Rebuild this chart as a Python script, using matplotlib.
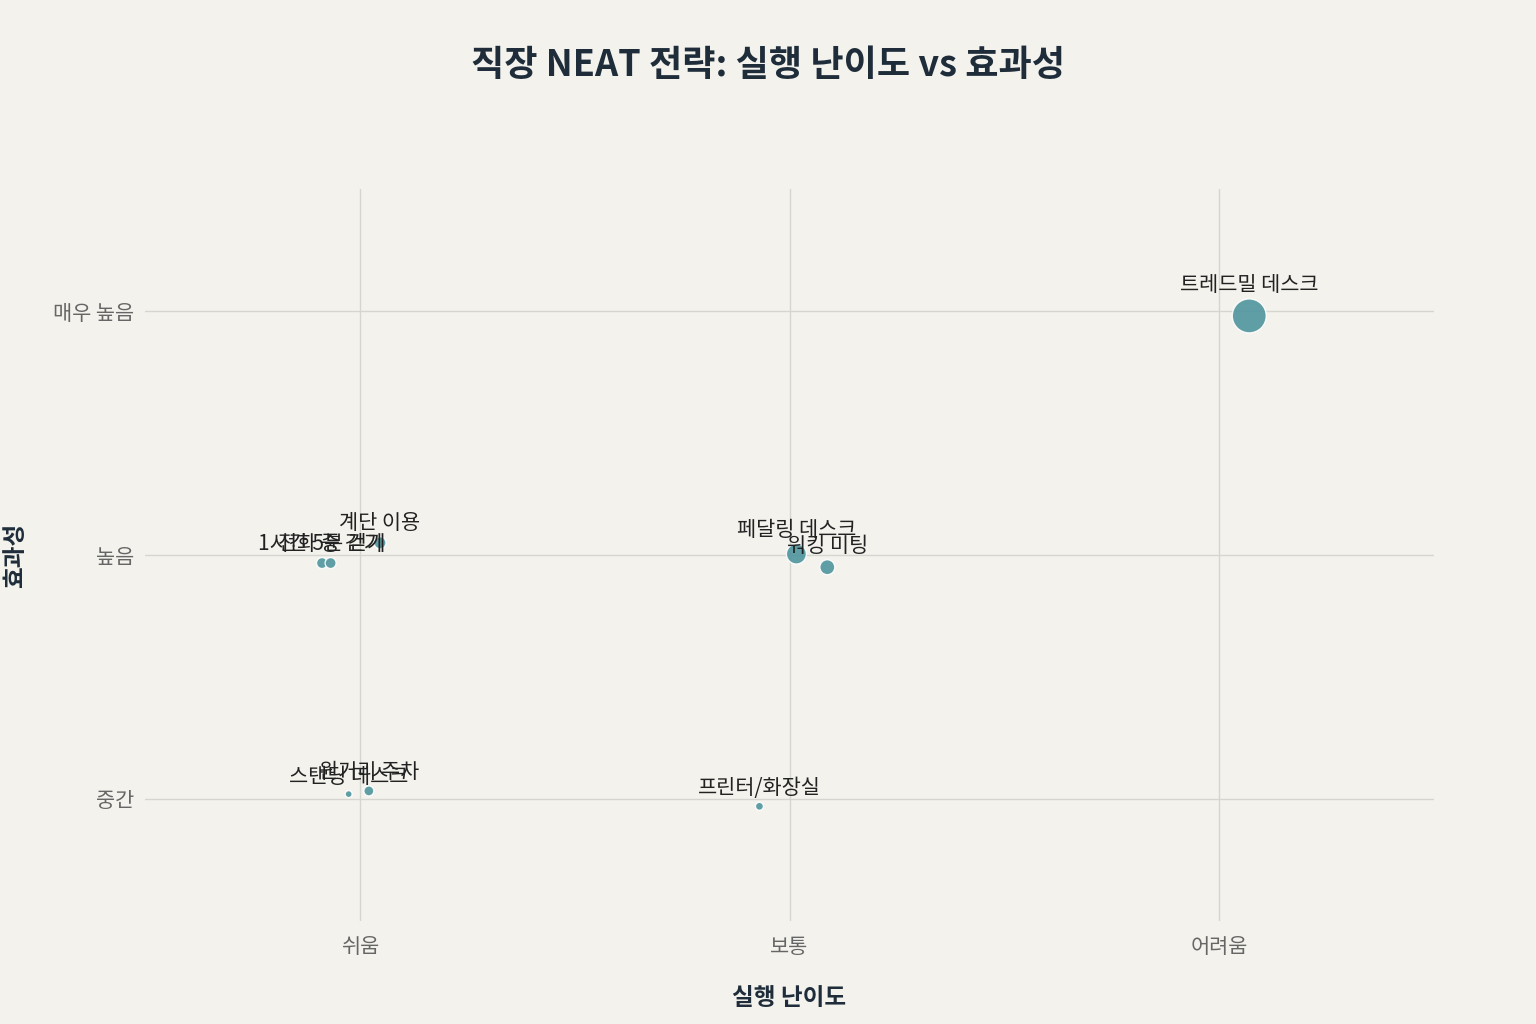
import matplotlib
matplotlib.use("Agg")
import matplotlib.pyplot as plt

plt.rcParams['font.family'] = ['Noto Sans CJK KR', 'DejaVu Sans']

# strategies: difficulty / effectiveness on category scale (with slight jitter as in source)
names = ["트레드밀 데스크", "계단 이용", "1시간 5분 걷기", "전화 중 걷기",
         "페달링 데스크", "워킹 미팅", "스탠딩 데스크", "원거리 주차", "프린터/화장실"]
difficulty = [2.07, 0.047, -0.088, -0.068, 1.016, 1.088, -0.026, 0.021, 0.93]
effect = [1.98, 1.05, 0.967, 0.967, 1.004, 0.95, 0.02, 0.033, -0.03]
kcal = [170, 60, 55, 55, 100, 75, 35, 50, 40]

x_labels = ["쉬움", "보통", "어려움"]
y_labels = ["중간", "높음", "매우 높음"]

bg = "#f3f2ed"
teal = "#4f959e"
dark = "#1f2d3a"

fig = plt.figure(figsize=(15.36, 10.24), dpi=100, facecolor=bg)
ax = fig.add_axes([0.0944, 0.1006, 0.8392, 0.7148], facecolor=bg)

px = 72 / fig.dpi
diam = [k / 5 for k in kcal]  # diameter in pixels
ax.scatter(difficulty, effect, s=[(d * px) ** 2 for d in diam], color=teal,
           alpha=0.9, edgecolors="white", linewidths=1.0, zorder=3)

for n, x, y, d in zip(names, difficulty, effect, diam):
    ax.annotate(n, (x, y), xytext=(0, (d / 2 + 3) * px), textcoords="offset points",
                ha="center", va="bottom", fontsize=15, color="#222222", zorder=4)

ax.set_xlim(-0.5, 2.5)
ax.set_ylim(-0.5, 2.5)
ax.set_xticks(range(3))
ax.set_xticklabels(x_labels)
ax.set_yticks(range(3))
ax.set_yticklabels(y_labels)
ax.tick_params(axis="x", length=0, labelsize=15, labelcolor="#666666", pad=11)
ax.tick_params(axis="y", length=0, labelsize=15, labelcolor="#666666", pad=8)
ax.grid(True, color="#d6d6d0", linewidth=1)
ax.set_axisbelow(True)
for s in ax.spines.values():
    s.set_visible(False)

ax.set_xlabel("실행 난이도", fontsize=17, fontweight="bold", color=dark)
ax.xaxis.set_label_coords(0.5, -0.089)
ax.set_ylabel("효과성", fontsize=17, fontweight="bold", color=dark)
ax.yaxis.set_label_coords(-0.0915, 0.5)

fig.text(0.5, 0.936, "직장 NEAT 전략: 실행 난이도 vs 효과성", ha="center", va="center",
         fontsize=26, fontweight="bold", color=dark)

fig.savefig("out.png", dpi=100, facecolor=bg)
